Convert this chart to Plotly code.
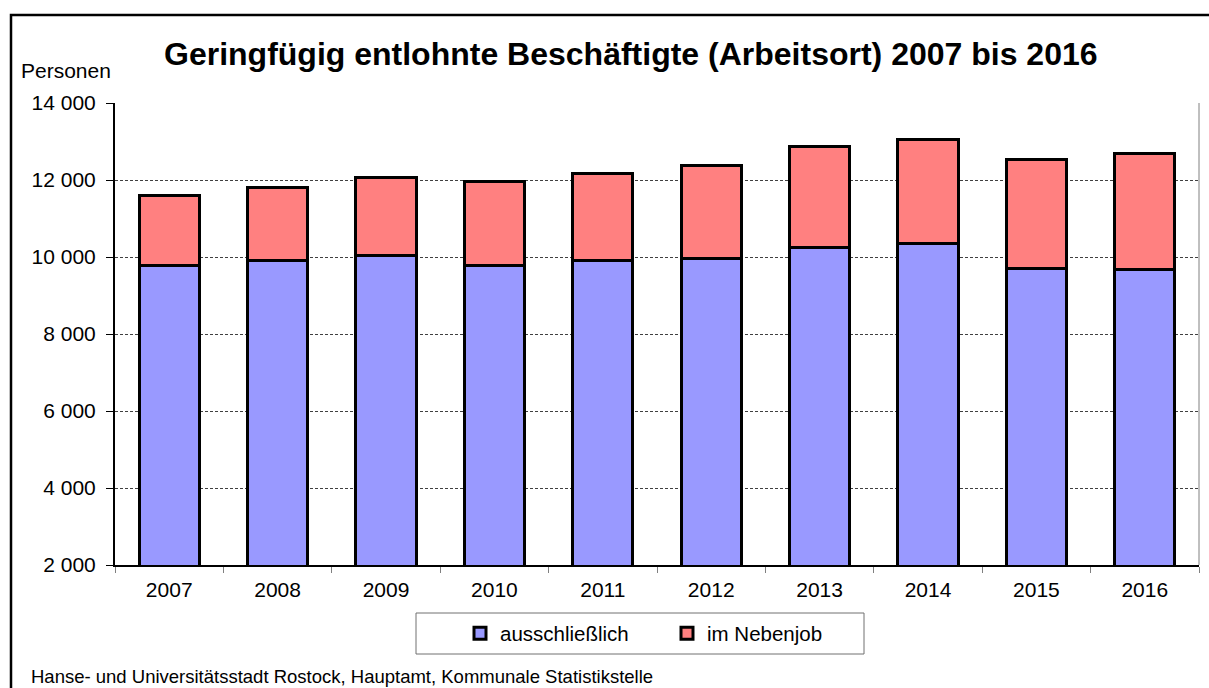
import plotly.graph_objects as go

# Geringfügig entlohnte Beschäftigte (Arbeitsort), Hansestadt Rostock
years = ["2007", "2008", "2009", "2010", "2011", "2012", "2013", "2014", "2015", "2016"]
ausschliesslich = [9790, 9910, 10050, 9770, 9900, 9950, 10250, 10350, 9700, 9670]
nebenjob = [1800, 1900, 2020, 2180, 2265, 2415, 2615, 2705, 2845, 3010]

y_ticks = [2000, 4000, 6000, 8000, 10000, 12000, 14000]
y_tick_text = ["2 000", "4 000", "6 000", "8 000", "10 000", "12 000", "14 000"]

W, H = 1209, 688
L, R, T, B = 115, 10, 103, 123
pw, ph = W - L - R, H - T - B

def px_x(x):
    return (x - L) / pw

def px_y(y):
    return 1 - (y - T) / ph

FONT = "Liberation Sans, Arial, sans-serif"

fig = go.Figure()
fig.add_trace(go.Bar(
    x=years, y=ausschliesslich, name="ausschließlich",
    marker=dict(color="#9999FF", line=dict(color="black", width=3)),
))
fig.add_trace(go.Bar(
    x=years, y=nebenjob, name="im Nebenjob",
    marker=dict(color="#FF8080", line=dict(color="black", width=3)),
))

fig.update_layout(
    width=W, height=H,
    margin=dict(l=L, r=R, t=T, b=B, pad=0),
    barmode="stack", bargap=0.445,
    plot_bgcolor="white", paper_bgcolor="white",
    font=dict(family=FONT, size=21, color="black"),
    showlegend=True,
    legend=dict(
        orientation="h", x=px_x(667), xanchor="center",
        y=px_y(633.5), yanchor="middle",
        bgcolor="rgba(0,0,0,0)", borderwidth=0,
        font=dict(size=20.5), traceorder="normal",
        entrywidth=162, itemclick=False,
    ),
)

fig.update_xaxes(
    type="category", showgrid=False,
    showline=True, linecolor="black", linewidth=1.5,
    ticks="outside", tickson="boundaries", ticklen=6, tickcolor="#808080", tickwidth=1,
    ticklabelstandoff=5, tickfont=dict(size=21),
)
fig.update_yaxes(
    range=[2000, 14000], tickvals=y_ticks, ticktext=y_tick_text,
    showgrid=True, gridcolor="#404040", griddash="3px,2px", gridwidth=1,
    showline=True, linecolor="black", linewidth=2,
    ticks="outside", ticklen=7, tickcolor="black", tickwidth=1,
    ticklabelstandoff=6, tickfont=dict(size=21), zeroline=False,
)

# right edge of the plot area
fig.add_shape(type="line", xref="paper", yref="paper", x0=1, x1=1, y0=0, y1=1,
              line=dict(color="#808080", width=1))

# outer chart frame
fig.add_shape(type="rect", xref="paper", yref="paper",
              x0=px_x(11), x1=px_x(1230), y0=px_y(15), y1=px_y(720),
              line=dict(color="black", width=2.5), fillcolor="rgba(0,0,0,0)", layer="above")

# legend box
fig.add_shape(type="rect", xref="paper", yref="paper",
              x0=px_x(416), x1=px_x(864), y0=px_y(613), y1=px_y(654),
              line=dict(color="#707070", width=1), fillcolor="rgba(0,0,0,0)")

fig.add_annotation(
    text="<b>Geringfügig entlohnte Beschäftigte (Arbeitsort) 2007 bis 2016</b>",
    xref="paper", yref="paper", x=px_x(631), y=px_y(54),
    xanchor="center", yanchor="middle", showarrow=False,
    font=dict(size=32, family=FONT),
)
fig.add_annotation(
    text="Personen", xref="paper", yref="paper", x=px_x(19), y=px_y(71),
    xanchor="left", yanchor="middle", showarrow=False, font=dict(size=21),
)
fig.add_annotation(
    text="Hanse- und Universitätsstadt Rostock, Hauptamt, Kommunale Statistikstelle",
    xref="paper", yref="paper", x=px_x(29), y=px_y(676),
    xanchor="left", yanchor="middle", showarrow=False, font=dict(size=18.5),
)

fig.write_html("out.html")
